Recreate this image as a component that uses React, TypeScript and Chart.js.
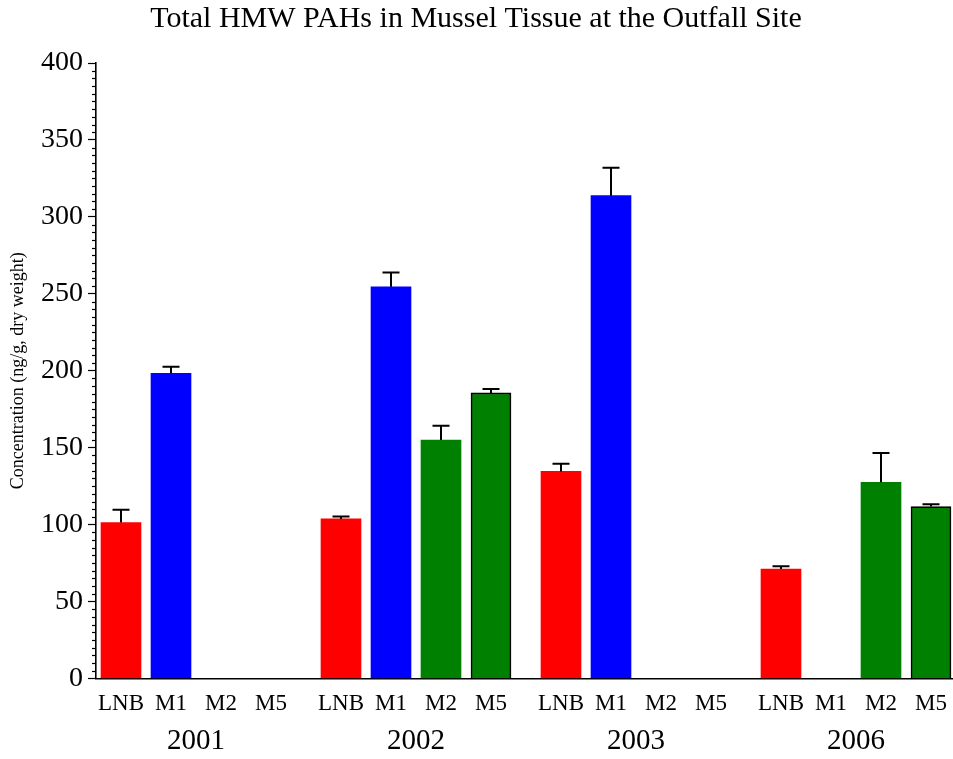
import React, { useEffect, useRef } from 'react';
import { Chart, registerables } from 'chart.js';

Chart.register(...registerables);

const titleText = 'Total HMW PAHs in Mussel Tissue at the Outfall Site';
const yAxisTitle = 'Concentration (ng/g, dry weight)';
const years = ['2001', '2002', '2003', '2006'];
const stations = ['LNB', 'M1', 'M2', 'M5'];
// mean concentration per year, station order LNB, M1, M2, M5 (null = not sampled)
const mean2001 = [101.3, 198.3, null, null];
const mean2002 = [103.7, 254.6, 155.0, 185.6];
const mean2003 = [134.6, 313.8, null, null];
const mean2006 = [71.1, null, 127.5, 111.7];
// upper error bar length per year
const err2001 = [8.3, 4.3, null, null];
const err2002 = [1.5, 9.3, 9.2, 2.6];
const err2003 = [5.0, 18.1, null, null];
const err2006 = [1.9, null, 19.0, 1.5];
const yMin = 0;
const yMax = 400;
const yStep = 50;
const yMinorStep = 5;

const means = [mean2001, mean2002, mean2003, mean2006];
const errs = [err2001, err2002, err2003, err2006];
const stationColors = ['#ff0000', '#0000ff', '#008000', '#008000'];
const stationBorderWidth = [0, 0, 0, 1.6];
const groupStride = 4.4;

type Pt = { x: number; y: number; err: number; s: number };

export default function App() {
  const ref = useRef<HTMLCanvasElement | null>(null);

  useEffect(() => {
    document.body.style.margin = '0';
    const points: Pt[] = [];
    const stationPos: number[] = [];
    const yearPos: number[] = [];
    years.forEach((_, g) => {
      yearPos.push(g * groupStride + (stations.length - 1) / 2);
      stations.forEach((_, i) => {
        stationPos.push(g * groupStride + i);
        const m = means[g][i];
        if (m !== null && m !== undefined) {
          points.push({ x: g * groupStride + i, y: m as number, err: (errs[g][i] as number) || 0, s: i });
        }
      });
    });

    const errorBars = {
      id: 'errorBars',
      afterDatasetsDraw(chart: any) {
        const ctx = chart.ctx;
        const yScale = chart.scales.y;
        const meta = chart.getDatasetMeta(0);
        ctx.save();
        ctx.strokeStyle = '#000';
        ctx.lineWidth = 2;
        meta.data.forEach((bar: any, k: number) => {
          const p = points[k];
          const top = yScale.getPixelForValue(p.y + p.err);
          ctx.beginPath();
          ctx.moveTo(bar.x, bar.y);
          ctx.lineTo(bar.x, top);
          ctx.moveTo(bar.x - 8.5, top);
          ctx.lineTo(bar.x + 8.5, top);
          ctx.stroke();
        });
        ctx.restore();
      },
    };

    const minorTicks = {
      id: 'minorTicks',
      afterDraw(chart: any) {
        const ctx = chart.ctx;
        const yScale = chart.scales.y;
        const left = chart.chartArea.left;
        ctx.save();
        ctx.strokeStyle = '#000';
        ctx.lineWidth = 1.2;
        for (let v = yMin; v <= yMax; v += yMinorStep) {
          if (v % yStep === 0) continue;
          const py = Math.round(yScale.getPixelForValue(v)) + 0.5;
          ctx.beginPath();
          ctx.moveTo(left - 4, py);
          ctx.lineTo(left, py);
          ctx.stroke();
        }
        ctx.restore();
      },
    };

    const serif = '"Liberation Serif", "Times New Roman", serif';
    const noSidePad = (scale: any) => {
      scale.paddingLeft = 0;
      scale.paddingRight = 0;
    };

    const chart = new Chart(ref.current as HTMLCanvasElement, {
      type: 'bar',
      data: {
        datasets: [
          {
            data: points.map((p) => ({ x: p.x, y: p.y })),
            backgroundColor: points.map((p) => stationColors[p.s]),
            borderColor: '#000',
            borderWidth: points.map((p) => stationBorderWidth[p.s]),
            barThickness: 40,
          } as any,
        ],
      },
      options: {
        animation: false,
        responsive: true,
        maintainAspectRatio: false,
        layout: { padding: { left: 0, right: 1, top: 0, bottom: 0 } },
        plugins: {
          legend: { display: false },
          tooltip: { enabled: false },
          title: {
            display: true,
            text: titleText,
            color: '#000',
            font: { family: serif, size: 30, weight: 'normal' },
            padding: { top: 1, bottom: 26 },
          },
        },
        scales: {
          x: {
            type: 'linear',
            position: 'bottom',
            offset: false,
            min: -0.5,
            max: 16.62,
            afterBuildTicks: (scale: any) => {
              scale.ticks = stationPos.map((v) => ({ value: v }));
            },
            afterFit: (scale: any) => {
              scale.height = 44;
              noSidePad(scale);
            },
            ticks: {
              autoSkip: false,
              maxRotation: 0,
              padding: 12,
              color: '#000',
              font: { family: serif, size: 23 },
              callback: (_v: any, idx: number) => stations[idx % stations.length],
            },
            grid: { display: true, offset: false, drawOnChartArea: false, drawTicks: false },
            border: { display: true, color: '#000', width: 1.6 },
          },
          x2: {
            type: 'linear',
            position: 'bottom',
            offset: false,
            min: -0.5,
            max: 16.62,
            afterBuildTicks: (scale: any) => {
              scale.ticks = yearPos.map((v) => ({ value: v }));
            },
            afterFit: (scale: any) => {
              scale.height = 36.5;
              noSidePad(scale);
            },
            ticks: {
              autoSkip: false,
              maxRotation: 0,
              padding: 1,
              color: '#000',
              font: { family: serif, size: 29 },
              callback: (_v: any, idx: number) => years[idx],
            },
            grid: { display: false, offset: false, drawTicks: false },
            border: { display: false },
          },
          y: {
            type: 'linear',
            min: yMin,
            max: yMax,
            afterFit: (scale: any) => {
              scale.width = 96;
            },
            ticks: {
              stepSize: yStep,
              padding: 5,
              color: '#000',
              font: { family: serif, size: 28 },
            },
            grid: {
              drawOnChartArea: false,
              drawTicks: true,
              tickLength: 8,
              tickColor: '#000',
              tickWidth: 1.2,
            },
            border: { display: true, color: '#000', width: 1.6 },
            title: {
              display: true,
              text: yAxisTitle,
              color: '#000',
              font: { family: serif, size: 18 },
              padding: { top: 7, bottom: 0 },
            },
          },
        },
      } as any,
      plugins: [errorBars, minorTicks],
    });
    return () => chart.destroy();
  }, []);

  return (
    <div style={{ position: 'fixed', left: 0, top: 0, width: 953, height: 759 }}>
      <canvas ref={ref} />
    </div>
  );
}
